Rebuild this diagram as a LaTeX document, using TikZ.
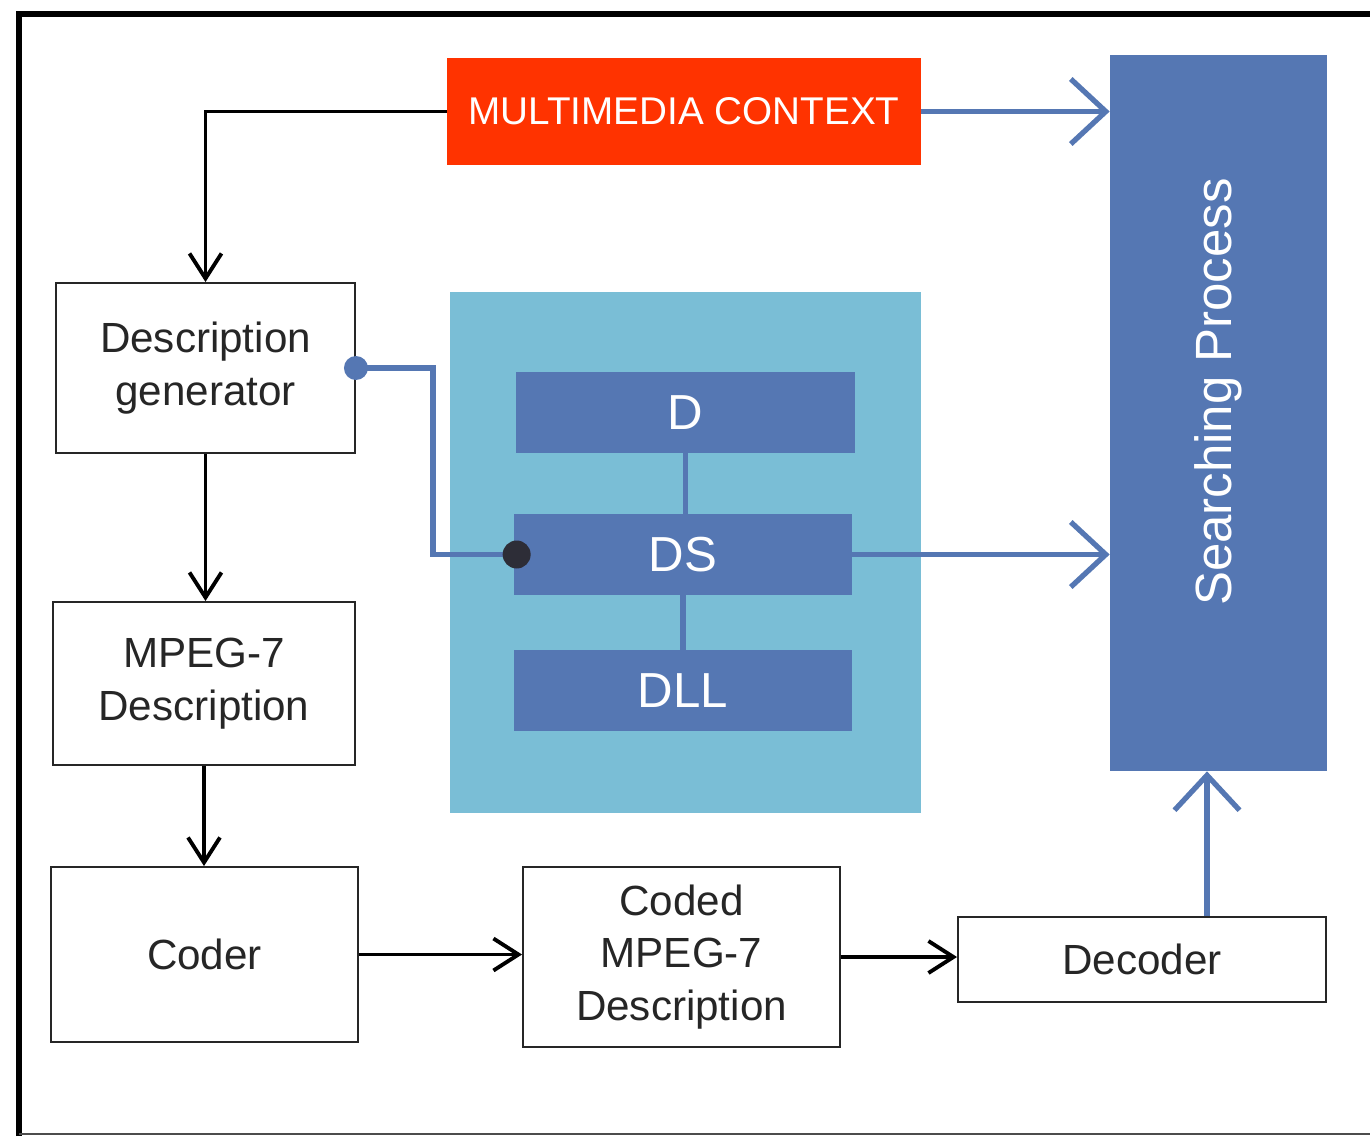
\documentclass[tikz,border=0pt]{standalone}
\usepackage{fontspec}
\setmainfont{Liberation Sans}
\usetikzlibrary{arrows.meta, positioning}

\definecolor{ctxred}{RGB}{255,51,0}
\definecolor{procblue}{RGB}{85,119,179}
\definecolor{panelblue}{RGB}{122,190,214}
\definecolor{dotdark}{RGB}{45,45,55}

\begin{document}
\begin{tikzpicture}[
    box/.style={draw=black!85, line width=1.1pt, fill=white, align=center, inner sep=2pt, font=\fontsize{24}{30}\selectfont, text=black!85},
    ddl/.style={fill=procblue, text=white, minimum width=6.76cm, minimum height=1.62cm, inner sep=0pt, font=\fontsize{28}{30}\selectfont},
    blk/.style={-{Straight Barb[length=5mm, width=6.4mm, line width=2.2pt]}, line width=2.2pt},
    barrow/.style={-{Straight Barb[length=7mm, width=13mm, line width=3pt]}, line width=3pt, draw=procblue}
  ]
    \useasboundingbox (0,0) rectangle (27.4,-22.72);
    % outer frame
    \draw[line width=3.4pt] (0.38,-22.72) -- (0.38,-0.28) -- (27.4,-0.28);
    \draw[line width=0.6pt, black!70] (0.38,-22.68) -- (27.4,-22.68);

    \node[fill=ctxred, text=white, minimum width=9.48cm, minimum height=2.14cm, inner sep=0pt,
      font=\fontsize{22}{26}\selectfont] (ctx) at (13.68,-2.23) {MULTIMEDIA CONTEXT};
    \node[fill=procblue, minimum width=4.34cm, minimum height=14.32cm, inner sep=0pt] (search) at (24.37,-8.26) {};
    \node[rotate=90, text=white, font=\fontsize{29}{30}\selectfont] (searchtxt) at ([yshift=0.42cm]search.center) {Searching Process};

    % description tools panel
    \node[fill=panelblue, minimum width=9.42cm, minimum height=10.42cm, inner sep=0pt] (panel) at (13.71,-11.05) {};
    \node[ddl, minimum width=6.78cm] (d) at (13.71,-8.25) {D};
    \node[ddl] (ds) at (13.66,-11.09) {DS};
    \node[ddl] (dll) at (13.66,-13.81) {DLL};
    \draw[procblue, line width=3.4pt] (d.south) -- (d.south |- ds.north);
    \draw[procblue, line width=3.4pt] (ds.south) -- (ds.south |- dll.north);

    \node[box, minimum width=5.98cm, minimum height=3.4cm] (gen) at (4.11,-7.36) {Description\\generator};
    \node[box, minimum width=6.04cm, minimum height=3.26cm] (mpeg) at (4.08,-13.67) {MPEG-7\\Description};
    \node[box, minimum width=6.14cm, minimum height=3.5cm] (coder) at (4.09,-19.09) {Coder};
    \node[box, minimum width=6.34cm, minimum height=3.6cm] (coded) at (13.63,-19.14) {Coded\\MPEG-7\\Description};
    \node[box, minimum width=7.36cm, minimum height=1.7cm] (dec) at (22.84,-19.19) {Decoder};

    \draw[blk] (ctx.west) -| (gen.north);
    \draw[blk] (gen.south) -- (gen.south |- mpeg.north);
    \draw[blk] (mpeg.south) -- (mpeg.south |- coder.north);
    \draw[blk] (coder.east) -- (coder.east -| coded.west);
    \draw[blk] (coded.east) -- (coded.east -| dec.west);

    \draw[barrow] (ctx.east) -- (ctx.east -| search.west);
    \draw[barrow] (ds.east) -- (ds.east -| search.west);
    \draw[barrow] ([xshift=1.3cm]dec.north) -- ([xshift=1.3cm]dec.north |- search.south);

    \draw[procblue, line width=3pt] (gen.east) -- ++(1.54,0) |- (ds.west);
    \fill[procblue] (gen.east) circle (0.24);
    \fill[dotdark] ([xshift=0.06cm]ds.west) circle (0.28);
  \end{tikzpicture}
\end{document}
